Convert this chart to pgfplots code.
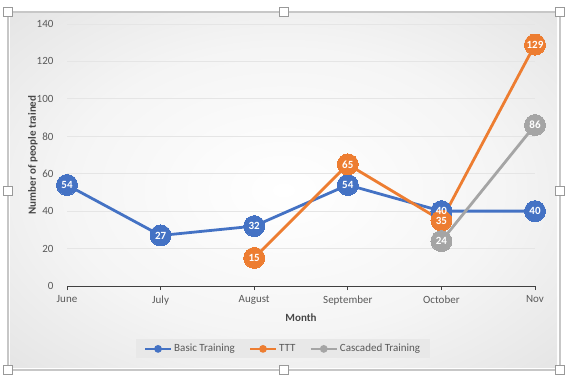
\documentclass[border=0pt]{standalone}
\usepackage{pgfplots}
\pgfplotsset{compat=1.18}
\usepackage{fontspec}
\setmainfont{Carlito}
\definecolor{cblue}{HTML}{4472C4}
\definecolor{corange}{HTML}{ED7D31}
\definecolor{cgray}{HTML}{A5A5A5}
\definecolor{tickgray}{HTML}{595959}
\pgfdeclareradialshading{bgshade}{\pgfpoint{0bp}{0bp}}{color(0bp)=(white); color(20bp)=(black!4); color(50bp)=(black!16); color(71bp)=(black!26)}
\begin{document}
\begin{tikzpicture}[x=1pt,y=1pt]
\path[use as bounding box] (0,0) rectangle (573,381);
\shade[shading=bgshade] (10,14) rectangle (557,368);
\draw[black!22, line width=1.2pt] (8,11) rectangle (560,369);
\foreach \p in {(8,11),(8,190),(8,369),(284,11),(284,369),(560,11),(560,190),(560,369)}
  \draw[black!40, fill=white, line width=0.6pt] \p ++(-4.5,-4.5) rectangle ++(9,9);
\begin{axis}[
  at={(67pt,95pt)}, anchor=south west, scale only axis,
  width=468pt, height=262pt,
  xmin=0, xmax=5, ymin=0, ymax=140,
  clip=false,
  /pgf/number format/assume math mode=true,
  xtick={0,1,2,3,4,5},
  xticklabels={June,July,August,September,October,Nov},
  ytick={0,20,40,60,80,100,120,140},
  ymajorgrids,
  grid style={black!10, line width=0.8pt},
  axis x line*=bottom,
  axis y line*=left,
  y axis line style={draw=none},
  x axis line style={black!75, line width=0.9pt},
  ytick style={draw=none},
  xtick style={black!75, line width=0.9pt},
  tick align=outside,
  major tick length=4pt,
  ticklabel style={font=\fontsize{11}{13}\selectfont, text=tickgray},
  yticklabel style={xshift=-6pt},
  xticklabel style={yshift=-2pt},
  xlabel={Month},
  ylabel={Number of people trained},
  every axis x label/.style={at={(axis description cs:0.5,-0.122)}, anchor=center, font=\bfseries\fontsize{11}{13}\selectfont, text=tickgray!80!black},
  every axis y label/.style={at={(axis description cs:-0.073,0.5)}, rotate=90, anchor=center, font=\bfseries\fontsize{11}{13}\selectfont, text=tickgray!80!black},
  legend columns=3,
  legend style={at={(axis description cs:0.4615,-0.240)}, anchor=center,
    fill=black!9, draw=none, font=\fontsize{11}{13}\selectfont, text=tickgray,
    inner xsep=8pt, inner ysep=3pt,
    /tikz/every even column/.append style={column sep=12pt}},
  legend image code/.code={\draw[line width=2.4pt] (0pt,0pt) -- (26pt,0pt); \fill (13pt,0pt) circle (2.4pt);},
]
\addplot[cblue, line width=2.8pt, mark=*, mark size=10.5pt, mark options={line width=0pt}]
  coordinates {(0,54) (1,27) (2,32) (3,54) (4,40) (5,40)};
\addlegendentry{Basic Training}
\addplot[corange, line width=2.8pt, mark=*, mark size=10.5pt, mark options={line width=0pt}]
  coordinates {(2,15) (3,65) (4,35) (5,129)};
\addlegendentry{TTT}
\addplot[cgray, line width=2.8pt, mark=*, mark size=10.5pt, mark options={line width=0pt}]
  coordinates {(4,24) (5,86)};
\addlegendentry{Cascaded Training}
\pgfplotsset{lbl/.style={draw=none, mark=none, forget plot, nodes near coords,
  every node near coord/.append style={anchor=center, text=white, inner sep=0pt, font=\bfseries\fontsize{11}{12}\selectfont}}}
\addplot[lbl] coordinates {(0,54) (1,27) (2,32) (3,54) (4,40) (5,40)};
\addplot[lbl] coordinates {(2,15) (3,65) (4,35) (5,129)};
\addplot[lbl] coordinates {(4,24) (5,86)};
\end{axis}
\end{tikzpicture}
\end{document}
